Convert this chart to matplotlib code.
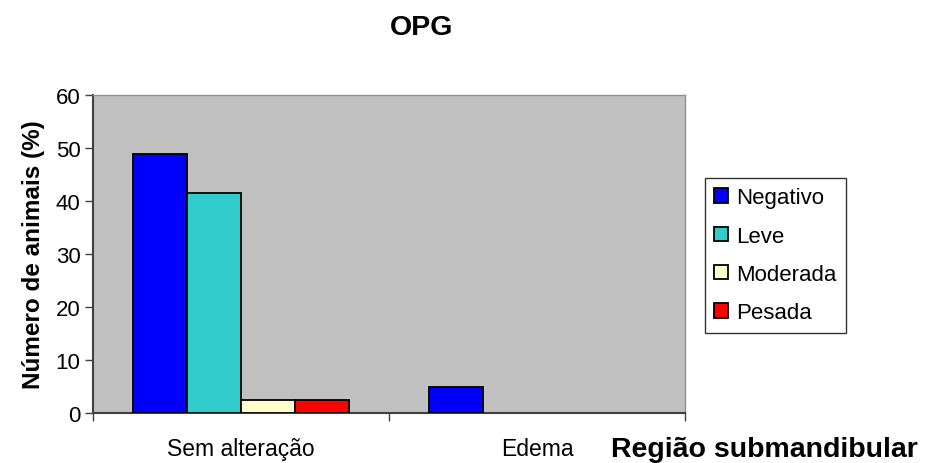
import matplotlib
matplotlib.use("Agg")
import matplotlib.pyplot as plt
import numpy as np

categories = ["Sem alteração", "Edema"]
series_names = ["Negativo", "Leve", "Moderada", "Pesada"]
negativo = [48.8, 4.9]
leve = [41.5, 0]
moderada = [2.4, 0]
pesada = [2.4, 0]
yticks = [0, 10, 20, 30, 40, 50, 60]

colors = ["#0000FF", "#33CCCC", "#FFFFCC", "#FF0000"]

plt.rcParams['font.family'] = ['Liberation Sans', 'DejaVu Sans']

fig = plt.figure(figsize=(9.26, 4.64), dpi=100)
ax = fig.add_axes([93/926, 50/464, 592/926, 318/464])
ax.set_facecolor("#C0C0C0")

x = np.arange(len(categories))
w = 0.1824
series = [negativo, leve, moderada, pesada]
for i, (name, vals, c) in enumerate(zip(series_names, series, colors)):
    lws = [1.3 if v > 0 else 0 for v in vals]
    ax.bar(x + (i - 1.5) * w, vals, width=w, color=c, edgecolor="black",
           linewidth=lws, label=name, zorder=3)

ax.set_xlim(-0.5, len(categories) - 0.5)
ax.set_ylim(0, 60)
ax.set_yticks(yticks)
ax.tick_params(axis='y', labelsize=16, length=6, width=1, color='#404040', pad=3)

ax.set_xticks(np.arange(len(categories) + 1) - 0.5)
ax.set_xticklabels([])
ax.set_xticks(x, minor=True)
ax.set_xticklabels(categories, minor=True)
ax.tick_params(axis='x', which='major', length=6, width=1, color='#404040')
ax.tick_params(axis='x', which='minor', length=0, labelsize=16.5, pad=17)

for s in ['left', 'bottom']:
    ax.spines[s].set_color('#404040')
    ax.spines[s].set_linewidth(1.5)
for s in ['top', 'right']:
    ax.spines[s].set_color('#909090')
    ax.spines[s].set_linewidth(1.0)

ax.set_ylabel("Número de animais (%)", fontsize=17.5, fontweight='bold', labelpad=8)
fig.text(422/926, 1 - 28/464, "OPG", fontsize=20.5, fontweight='bold', ha='center', va='center')
fig.text(918/926, 1 - 450/464, "Região submandibular", fontsize=20.5, fontweight='bold',
         ha='right', va='center')

leg = ax.legend(loc='upper left', bbox_to_anchor=(705/926, 1 - 179/464),
                bbox_transform=fig.transFigure, fontsize=16, frameon=True,
                fancybox=False, edgecolor='black', handlelength=0.63, handleheight=0.6,
                handletextpad=0.36, labelspacing=0.78, borderpad=0.42, borderaxespad=0)
leg.get_frame().set_linewidth(1.0)

fig.savefig("out.png", dpi=100, facecolor='white')
